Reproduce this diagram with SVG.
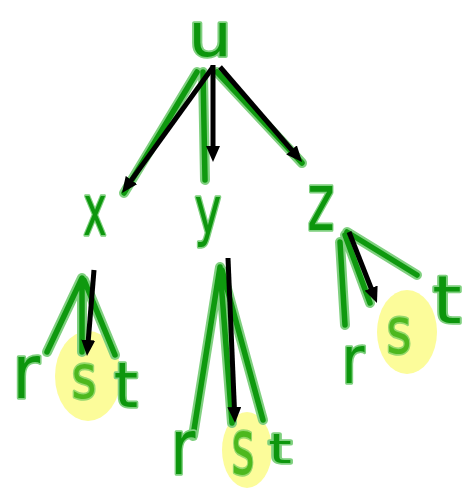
<svg xmlns="http://www.w3.org/2000/svg" width="463" height="492" viewBox="0 0 463 492">
<style>
.lbl{font-family:"DejaVu Sans","Liberation Sans",sans-serif;fill:#0d960d;stroke:#7fd07f;stroke-width:3.5;paint-order:stroke;stroke-linejoin:round;text-anchor:middle}
.sel{fill:#4db81e;stroke:#95d86c}
.hl{fill:#fcfc9a}
.edge{fill:none;stroke-linecap:round}
.edge .h{stroke:#80d080;stroke-width:10}
.edge .c{stroke:#0f990f;stroke-width:5.5}
.arr{stroke:#000;stroke-width:5;fill:none;marker-end:url(#ah)}
</style>
<defs>
<marker id="ah" viewBox="0 0 16 14" refX="6" refY="7" markerWidth="16" markerHeight="14" markerUnits="userSpaceOnUse" orient="auto">
<path d="M0,0 L16,7 L0,14 z" fill="#000"/>
</marker>
</defs>
<rect width="463" height="492" fill="#fff"/>
<g id="highlights">
<ellipse class="hl" cx="88" cy="376" rx="33" ry="45"/>
<ellipse class="hl" cx="247" cy="450" rx="25" ry="38"/>
<ellipse class="hl" cx="407" cy="332" rx="30" ry="42"/>
</g>
<g id="connectors">
<g class="edge">
<g class="h">
<path d="M197,72 L124,193 M203,72 L205,180 M217,72 L302,163 M82,278 L47,352 M82,280 L82,352 M84,280 L115,355 M220,267 L193,436 M220,268 L232,423 M222,270 L263,420 M340,242 L345,325 M345,235 L370,303 M347,232 L417,275"/>
</g>
<g class="c">
<path d="M197,72 L124,193 M203,72 L205,180 M217,72 L302,163 M82,278 L47,352 M82,280 L82,352 M84,280 L115,355 M220,267 L193,436 M220,268 L232,423 M222,270 L263,420 M340,242 L345,325 M345,235 L370,303 M347,232 L417,275"/>
</g>
</g>
<path class="arr" d="M213,67 L127.9,184.9"/>
<path class="arr" d="M213,65 L213,152"/>
<path class="arr" d="M220,67 L295.5,154.4"/>
<path class="arr" d="M94,270 L87.8,346"/>
<path class="arr" d="M228,258 L234.6,413"/>
<path class="arr" d="M349,232 L373.3,293.7"/>
</g>
<g id="node-u"><text class="lbl" font-size="60" transform="translate(210,56) scale(1.15,1)">u</text></g>
<g id="node-x"><text class="lbl" font-size="72" transform="translate(95,235) scale(0.55,1)">x</text></g>
<g id="node-y"><text class="lbl" font-size="65" transform="translate(208,233) scale(0.7,1)">y</text></g>
<g id="node-z"><text class="lbl" font-size="80" transform="translate(321,230) scale(0.65,1)">z</text></g>
<g id="node-x-r"><text class="lbl" font-size="75" transform="translate(26,398) scale(0.9,1)">r</text></g>
<g id="node-x-s"><text class="lbl sel" font-size="60" transform="translate(84,398) scale(0.8,1)">s</text></g>
<g id="node-x-t"><text class="lbl" font-size="62" transform="translate(126,407)">t</text></g>
<g id="node-y-r"><text class="lbl" font-size="76" transform="translate(183,474) scale(0.8,1)">r</text></g>
<g id="node-y-s"><text class="lbl sel" font-size="76" transform="translate(243,474) scale(0.58,1)">s</text></g>
<g id="node-y-t"><text class="lbl" font-size="40" transform="translate(280,463) scale(1.5,1)">t</text></g>
<g id="node-z-r"><text class="lbl" font-size="66" transform="translate(353,383) scale(0.85,1)">r</text></g>
<g id="node-z-s"><text class="lbl sel" font-size="64" transform="translate(399,353) scale(0.75,1)">s</text></g>
<g id="node-z-t"><text class="lbl" font-size="65" transform="translate(447,323) scale(1.15,1)">t</text></g>
</svg>
